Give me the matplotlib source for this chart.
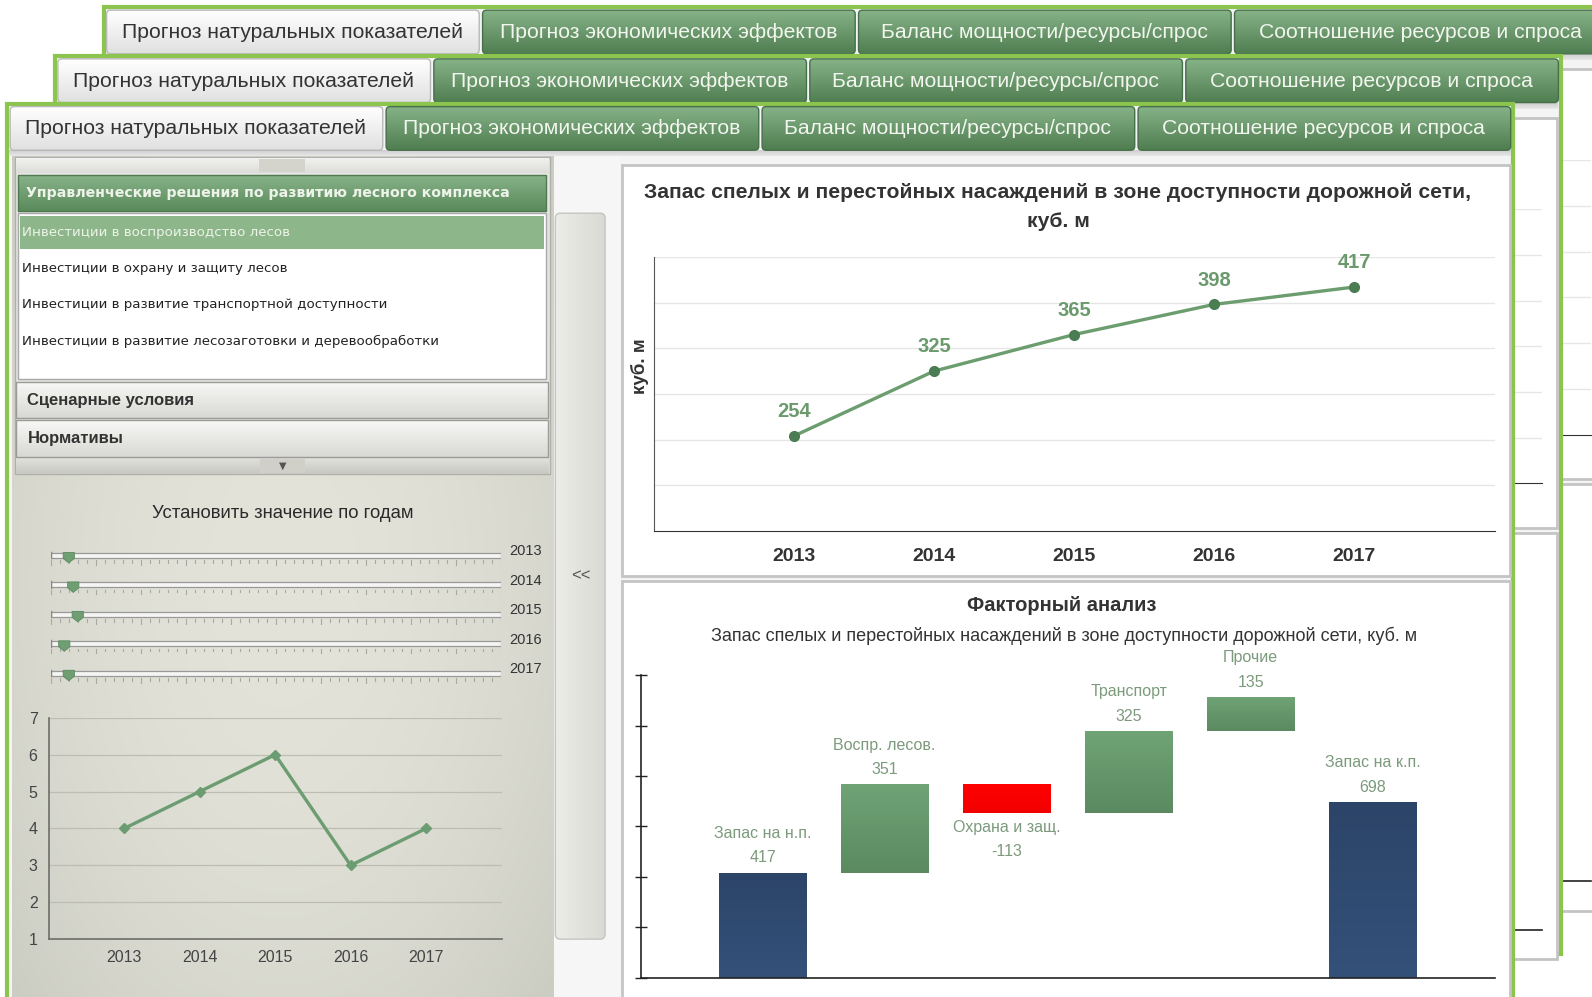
import numpy as np
import matplotlib.pyplot as plt
from matplotlib.patches import Rectangle, FancyBboxPatch, Polygon
from matplotlib.colors import to_rgb
from matplotlib import font_manager

# ---- данные ----
years = [2013, 2014, 2015, 2016, 2017]
stock = [254, 325, 365, 398, 417]
year_vals = [4, 5, 6, 3, 4]

wf_names = ['Запас на н.п.', 'Воспр. лесов.', 'Охрана и защ.', 'Транспорт', 'Прочие', 'Запас на к.п.']
wf_vals = [417, 351, -113, 325, 135, 698]
wf_total = [True, False, False, False, False, True]

tabs = ['Прогноз натуральных показателей', 'Прогноз экономических эффектов',
        'Баланс мощности/ресурсы/спрос', 'Соотношение ресурсов и спроса']
menu_head = 'Управленческие решения по развитию лесного комплекса'
menu_items = ['Инвестиции в воспроизводство лесов', 'Инвестиции в охрану и защиту лесов',
              'Инвестиции в развитие транспортной доступности',
              'Инвестиции в развитие лесозаготовки и деревообработки']
menu_groups = ['Сценарные условия', 'Нормативы']
title_top = ['Запас спелых и перестойных насаждений в зоне доступности дорожной сети,', 'куб. м']
title_wf = 'Факторный анализ'
subtitle_wf = 'Запас спелых и перестойных насаждений в зоне доступности дорожной сети, куб. м'

names = {f.name for f in font_manager.fontManager.ttflist}
NARROW = 'Liberation Sans Narrow' if 'Liberation Sans Narrow' in names else 'Liberation Sans'
plt.rcParams['font.family'] = [NARROW, 'DejaVu Sans']

FRAME = '#8cc54e'
LINE_G = '#6b9d6f'
DARK_G = '#4a7d52'
LABEL_G = '#6b9a6d'
WF_TXT = '#7c9a7c'

W, H = 1568, 982
fig = plt.figure(figsize=(15.92, 9.97), dpi=100)
fig.patch.set_facecolor('white')


def place(x0, y0, x1, y1):
    return fig.add_axes([x0 / W, 1 - y1 / H, (x1 - x0) / W, (y1 - y0) / H])


def grad(ax, x0, y0, x1, y1, c0, c1, z, ec='none', lw=1, r=0, horiz=False):
    style = 'round,pad=0,rounding_size=%g' % r if r else 'square,pad=0'
    box = FancyBboxPatch((x0, y0), x1 - x0, y1 - y0, boxstyle=style,
                         fc='none', ec=ec, lw=lw, zorder=z + 0.1)
    ax.add_patch(box)
    t = np.linspace(0, 1, 64)[:, None]
    arr = np.array(to_rgb(c0)) * (1 - t) + np.array(to_rgb(c1)) * t
    arr = arr[None, :, :] if horiz else arr[:, None, :]
    im = ax.imshow(arr, extent=(x0, x1, y1, y0), aspect='auto', zorder=z,
                   interpolation='bilinear')
    im.set_clip_path(box)
    return box


def draw_window(ox, oy, front):
    lay = fig.add_axes([0, 0, 1, 1])
    lay.set_xlim(0, W)
    lay.set_ylim(H, 0)
    lay.set_autoscale_on(False)
    lay.axis('off')
    X = lambda x: x + ox
    Y = lambda y: y + oy

    # рамка окна
    lay.add_patch(Rectangle((X(7), Y(102)), 1483, 885, fc='#f4f4f4', ec=FRAME, lw=3, zorder=1))

    # вкладки
    for i, t in enumerate(tabs):
        x0 = X(10 + i * 370.3)
        if i == 0:
            grad(lay, x0, Y(105), x0 + 367, Y(148), '#ffffff', '#e0e0e0', 2, ec='#b8b8b8', r=4)
            lay.text(x0 + 183, Y(127), t, ha='center', va='center', fontsize=15.2, color='#333333', zorder=3)
        else:
            grad(lay, x0, Y(105), x0 + 367, Y(148), '#86b287', '#4f7e51', 2, ec='#46704a', r=4)
            lay.text(x0 + 183, Y(127), t, ha='center', va='center', fontsize=15.2, color='#f2f6ee', zorder=3)
    grad(lay, X(9), Y(148), X(1488), Y(154), '#c8c8c8', '#e8e8e8', 2)

    # правые панели
    lay.add_patch(Rectangle((X(613), Y(163)), 874, 404, fc='white', ec='#c4c4c4', lw=2, zorder=2))
    lay.add_patch(Rectangle((X(613), Y(572)), 874, 420, fc='white', ec='#c4c4c4', lw=2, zorder=2))

    # верхний график
    ax = place(X(644), Y(253), X(1472), Y(523))
    ax.patch.set_alpha(0)
    ax.plot(years, stock, color=LINE_G, lw=2.4, zorder=3)
    ax.plot(years, stock, 'o', color=DARK_G, ms=7, zorder=4)
    ax.set_xlim(2012, 2018)
    ax.set_ylim(150, 450)
    ax.set_yticks(range(200, 451, 50))
    ax.set_yticklabels([])
    ax.set_xticks(years)
    ax.grid(axis='y', color='#e6e6e6', lw=1)
    ax.set_axisbelow(True)
    for s in ['top', 'right']:
        ax.spines[s].set_visible(False)
    ax.spines['left'].set_color('#555555')
    ax.spines['bottom'].set_color('#333333')
    ax.tick_params(length=0)

    # факторный анализ
    wf = place(X(631), Y(665), X(1472), Y(963))
    wf.patch.set_alpha(0)
    pos = np.arange(len(wf_vals))
    bottoms, heights = [], []
    run = 0
    for v, tot in zip(wf_vals, wf_total):
        if tot:
            bottoms.append(0)
            run = v
        else:
            bottoms.append(run)
            run += v
        heights.append(v)
    colors = []
    for v, tot in zip(wf_vals, wf_total):
        if tot:
            colors.append(('#2c4468', '#34517a'))
        elif v > 0:
            colors.append(('#6fa376', '#5b8a60'))
        else:
            colors.append(('#ff0000', '#f20000'))
    bars = wf.bar(pos, heights, bottom=bottoms, width=0.72, color=[c[0] for c in colors], zorder=2)
    for b, c in zip(bars, colors):
        x0, y0 = b.get_x(), b.get_y()
        x1, y1 = x0 + b.get_width(), y0 + b.get_height()
        t = np.linspace(0, 1, 64)[:, None]
        arr = np.array(to_rgb(c[0])) * (1 - t) + np.array(to_rgb(c[1])) * t
        im = wf.imshow(arr[:, None, :], extent=(x0, x1, min(y0, y1), max(y0, y1)), origin='upper',
                       aspect='auto', zorder=2.5, interpolation='bilinear')
        im.set_clip_path(b)
    wf.set_xlim(-1, 6)
    wf.set_ylim(0, 1200)
    wf.set_yticks(range(0, 1201, 200))
    wf.set_yticklabels([])
    wf.set_xticks([])
    for s in ['top', 'right']:
        wf.spines[s].set_visible(False)
    for s in ['left', 'bottom']:
        wf.spines[s].set_color('#222222')
        wf.spines[s].set_linewidth(1.2)
    wf.tick_params(axis='y', direction='inout', length=8, color='#222222', width=1)

    if not front:
        ax.set_xticklabels([])
        return

    # ---- всё остальное видно только у переднего окна ----
    for lb in ax.get_xticklabels():
        lb.set_fontweight('bold')
    ax.tick_params(axis='x', labelsize=14, pad=12, labelcolor='#333333')
    ax.set_ylabel('куб. м', fontsize=13.5, fontweight='bold', color='#333333')
    ax.yaxis.set_label_coords(-0.006, 0.6)
    for yr, v in zip(years, stock):
        ax.annotate(str(v), (yr, v), xytext=(0, 17.5), textcoords='offset points', ha='center',
                    va='center', fontsize=14.5, fontweight='bold', color=LABEL_G)
    lay.text(X(1042), Y(190), title_top[0], ha='center', va='center', fontsize=15.2,
             fontweight='bold', color='#333333', zorder=4)
    lay.text(X(1042), Y(218), title_top[1], ha='center', va='center', fontsize=15.2,
             fontweight='bold', color='#333333', zorder=4)

    lay.text(X(1046), Y(596), title_wf, ha='center', va='center', fontsize=14.5,
             fontweight='bold', color='#333333', zorder=4)
    lay.text(X(1048), Y(626), subtitle_wf, ha='center', va='center', fontsize=13,
             color='#333333', zorder=4)
    for p, name, v, b0, h in zip(pos, wf_names, wf_vals, bottoms, heights):
        edge = b0 + h
        sgn = 1 if v >= 0 else -1
        first, second = (str(v), name) if v >= 0 else (name, str(v))
        wf.annotate(first, (p, edge), xytext=(0, 10.5 * sgn), textcoords='offset points', ha='center',
                    va='center', fontsize=11.5, color=WF_TXT, annotation_clip=False)
        wf.annotate(second, (p, edge), xytext=(0, 28 * sgn), textcoords='offset points', ha='center',
                    va='center', fontsize=11.5, color=WF_TXT, annotation_clip=False)

    # левая панель с радиальным градиентом
    yy, xx = np.mgrid[0:1:200j, 0:1:120j]
    rr = np.clip(np.sqrt(((xx - 0.5) / 0.75) ** 2 + ((yy - 0.5) / 0.8) ** 2), 0, 1) ** 2
    img = np.array(to_rgb('#e3e3d9')) * (1 - rr[..., None]) + np.array(to_rgb('#c6c7bd')) * rr[..., None]
    lay.imshow(img, extent=(X(12), X(545), Y(990), Y(154)), aspect='auto', zorder=2, interpolation='bilinear')
    lay.add_patch(Rectangle((X(545), Y(154)), 66, 836, fc='#f6f6f6', ec='none', zorder=1.5))

    # аккордеон
    lay.add_patch(Rectangle((X(15), Y(155)), 527, 312, fc='#e4e4e0', ec='#b0b0aa', lw=1, zorder=3))
    grad(lay, X(16), Y(156), X(541), Y(170), '#f2f2f0', '#dcdcd8', 3.2)
    lay.add_patch(Rectangle((X(255), Y(157)), 45, 12, fc='#d4d4cc', ec='none', zorder=3.4))
    grad(lay, X(18), Y(172), X(538), Y(208), '#88b489', '#5a8a5c', 3.2, ec='#4d7b4f')
    lay.text(X(26), Y(190), menu_head, ha='left', va='center', fontsize=10.2, fontweight='bold',
             family=['DejaVu Sans'], color='#eef3ea', zorder=4)
    lay.add_patch(Rectangle((X(18), Y(210)), 520, 163, fc='white', ec='#a8a8a8', lw=1, zorder=3.2))
    lay.add_patch(Rectangle((X(20), Y(213)), 516, 32, fc='#8db68a', ec='none', zorder=3.3))
    for k, item in enumerate(menu_items):
        lay.text(X(22), Y(229 + k * 35.7), item, ha='left', va='center', fontsize=9.6,
                 family=['DejaVu Sans'], color='#eef3e8' if k == 0 else '#222222', zorder=4)
    for k, g in enumerate(menu_groups):
        y0 = Y(376 + k * 38)
        grad(lay, X(16), y0, X(540), y0 + 36, '#f8f8f6', '#d8d8d4', 3.2, ec='#9a9a96')
        lay.text(X(27), y0 + 18, g, ha='left', va='center', fontsize=12, fontweight='bold',
                 family=['Liberation Sans', 'DejaVu Sans'], color='#333333', zorder=4)
    grad(lay, X(16), Y(451), X(541), Y(467), '#e2e2de', '#c8c8c2', 3.2)
    lay.add_patch(Rectangle((X(256), Y(452)), 44, 14, fc='#d0d0c8', ec='none', zorder=3.4))
    lay.text(X(278), Y(459), '▼', ha='center', va='center', fontsize=7, color='#555555',
             family=['DejaVu Sans'], zorder=4)

    # полоса сворачивания
    grad(lay, X(547), Y(210), X(596), Y(925), '#ecece8', '#dadad4', 2.5, ec='#c4c4c0', r=5, horiz=True)
    lay.text(X(572), Y(567), '<<', ha='center', va='center', fontsize=12, color='#555555', zorder=3)

    # ползунки
    lay.text(X(278), Y(506), 'Установить значение по годам', ha='center', va='center',
             fontsize=13.3, color='#2a2a2a', zorder=4)
    for k, (yr, v) in enumerate(zip(years, year_vals)):
        yt = Y(547 + k * 29)
        sax = place(X(50), yt - 6, X(493), yt + 11)
        sax.set_xlim(0, 100)
        sax.set_ylim(11, -6)
        sax.axis('off')
        sax.add_patch(Rectangle((0, -2.5), 100, 5, fc='#f5f5f3', ec='#999999', lw=0.9))
        sax.plot([0, 0], [-3.5, 3], color='#888888', lw=1)
        for tk in range(0, 101, 2):
            sax.plot([tk, tk], [5, 7.5 if tk % 10 else 9.5], color='#a9a9a3', lw=0.8)
        sax.add_patch(Polygon([[v - 1.25, -2.8], [v + 1.25, -2.8], [v + 1.25, 3], [v, 7.5], [v - 1.25, 3]],
                              closed=True, fc='#6f9e73', ec='#5b8a60', lw=0.6, zorder=5))
        lay.text(X(502), yt - 4, str(yr), ha='left', va='center', fontsize=10.5, color='#333333', zorder=4)

    # малый график
    sm = place(X(48), Y(707), X(494), Y(925))
    sm.patch.set_alpha(0)
    sm.plot(years, year_vals, color='#6c9c72', lw=2.4, marker='D', ms=5.5, mfc='#6c9c72', mec='#6c9c72')
    sm.set_xlim(2012, 2018)
    sm.set_ylim(1, 7)
    sm.set_yticks(range(1, 8))
    sm.set_xticks(years)
    sm.grid(axis='y', color='#bdbdb3', lw=0.9)
    sm.set_axisbelow(True)
    for s in ['top', 'right']:
        sm.spines[s].set_visible(False)
    for s in ['left', 'bottom']:
        sm.spines[s].set_color('#6e6e6a')
        sm.spines[s].set_linewidth(1.2)
    sm.tick_params(length=0, labelsize=11.5, colors='#444444', pad=8)


# три окна друг за другом: дальнее, среднее, переднее
draw_window(95, -95, False)
draw_window(47, -47, False)
draw_window(0, 0, True)

fig.savefig('out.png', dpi=100)
